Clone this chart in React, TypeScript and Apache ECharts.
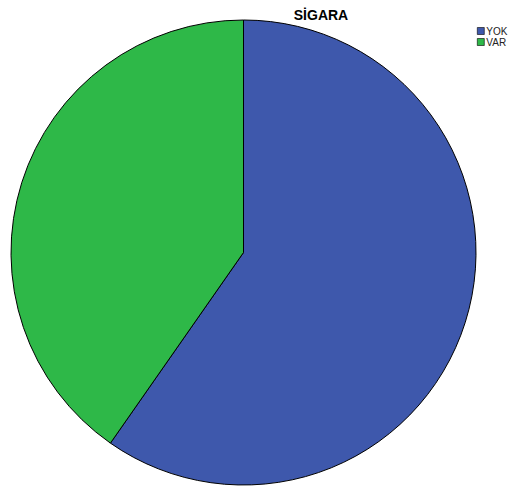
import React, { useEffect, useRef } from "react";
import * as echarts from "echarts";

const categories = ["YOK", "VAR"];
const values = [59.7, 40.3];
const colors = ["#3E58AC", "#2EB848"];
const title = "SİGARA";

export default function App() {
  const ref = useRef<HTMLDivElement>(null);
  useEffect(() => {
    if (!ref.current) return;
    const chart = echarts.init(ref.current, null, { renderer: "svg" });
    chart.setOption({
      animation: false,
      backgroundColor: "#ffffff",
      title: {
        text: title,
        left: 316,
        top: 3,
        textAlign: "center",
        textStyle: {
          fontFamily: "Liberation Sans, Arial, sans-serif",
          fontSize: 14,
          fontWeight: "bold",
          color: "#000000",
        },
      },
      legend: {
        data: categories,
        orient: "vertical",
        left: 477,
        top: 26,
        padding: 0,
        itemWidth: 7,
        itemHeight: 7,
        itemGap: 1,
        icon: "rect",
        itemStyle: { borderColor: "#000000", borderWidth: 0.6 },
        textStyle: {
          fontFamily: "Liberation Sans, Arial, sans-serif",
          fontSize: 10,
          color: "#222222",
          padding: [0, 0, 0, -3],
        },
      },
      series: [
        {
          type: "pie",
          center: [243.5, 252.5],
          radius: 232.5,
          startAngle: 90,
          clockwise: true,
          label: { show: false },
          labelLine: { show: false },
          emphasis: { disabled: true },
          itemStyle: { borderColor: "#000000", borderWidth: 1 },
          data: categories.map((c, i) => ({
            name: c,
            value: values[i],
            itemStyle: { color: colors[i] },
          })),
        },
      ],
    });
    return () => chart.dispose();
  }, []);
  return <div ref={ref} style={{ width: 517, height: 489, position: "absolute", left: 0, top: 0 }} />;
}
